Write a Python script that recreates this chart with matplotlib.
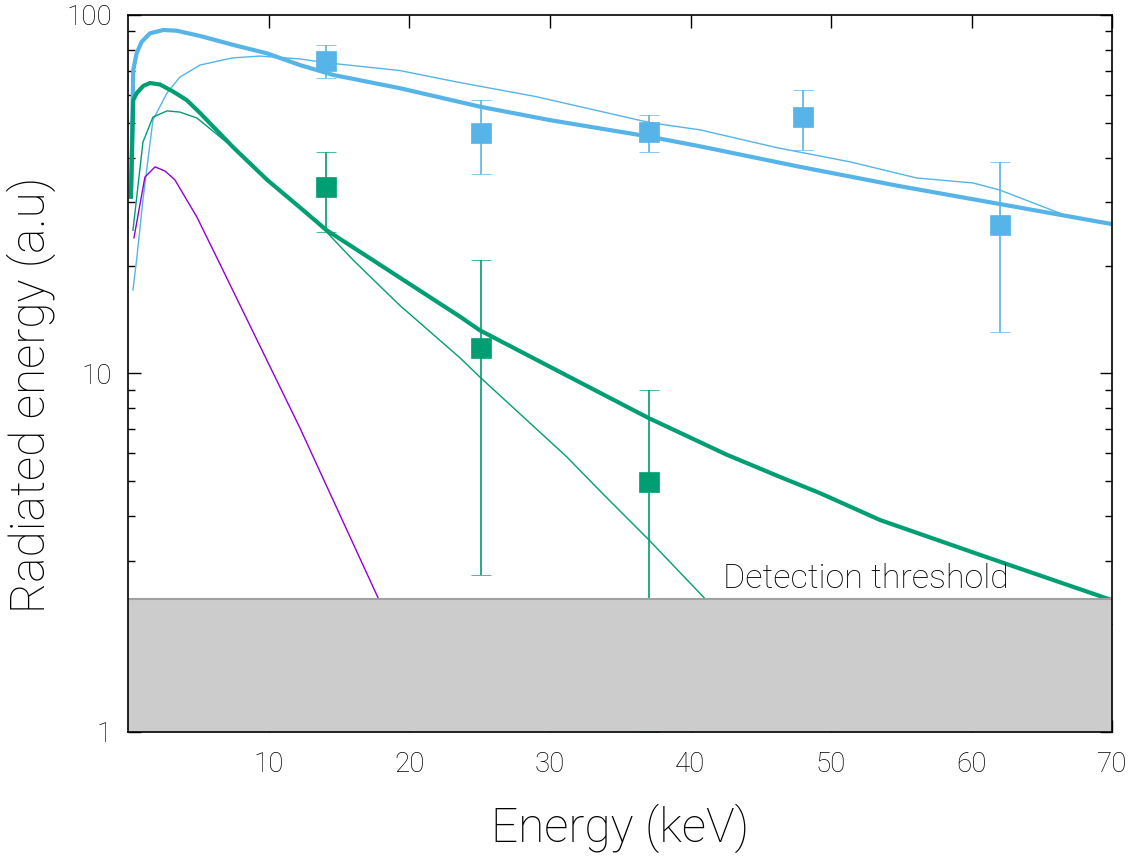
import matplotlib
matplotlib.use('Agg')
import matplotlib.pyplot as plt
import numpy as np

plt.rcParams['font.family'] = ['Roboto', 'DejaVu Sans']

# measured points (keV, a.u.)
pts_x = [14.06, 25.1, 37.05, 48.0, 62.0]
blue_y = [74.4, 46.9, 47.2, 51.9, 26.0]
blue_lo = [66.7, 36.0, 41.5, 42.0, 13.05]
blue_hi = [82.5, 57.9, 52.6, 61.8, 38.9]

green_x = [14.06, 25.1, 37.05]
green_y = [33.1, 11.8, 4.98]
green_lo = [24.8, 2.74, 1.0]
green_hi = [41.5, 20.7, 9.0]

# fitted / model curves
blue_fit_x = [0.18, 0.34, 0.58, 0.94, 1.53, 2.48, 3.43, 5.09, 7.46, 9.84, 12.2, 14.6, 19.3,
              25.1, 30.0, 37.05, 40.7, 47.8, 54.9, 62.0, 70.0]
blue_fit_y = [32.5, 70.2, 78.2, 84.2, 88.9, 90.8, 90.4, 87.4, 82.5, 78.2, 72.5, 68.0, 62.5,
              55.4, 50.9, 45.8, 43.0, 37.7, 33.3, 29.7, 26.1]

blue_mod_x = [0.32, 0.6, 1.03, 1.74, 2.74, 3.66, 5.09, 7.4, 9.36, 12.2, 14.06, 19.3, 23.4,
              29.0, 37.1, 40.7, 46.2, 51.4, 56.1, 60.1, 62.0, 64.4, 66.8]
blue_mod_y = [17.1, 21.1, 30.5, 50.9, 60.6, 67.1, 72.5, 75.9, 76.8, 75.4, 73.6, 70.0, 65.0,
              59.2, 50.1, 47.8, 42.6, 38.9, 35.1, 34.0, 32.5, 29.9, 27.5]

green_fit_x = [0.18, 0.34, 0.58, 1.05, 1.53, 2.24, 3.19, 4.14, 5.09, 7.44, 9.86, 12.0, 14.1,
               17.4, 23.6, 25.0, 30.7, 37.05, 42.6, 46.4, 49.2, 53.5, 60.6, 69.6, 70.0]
green_fit_y = [31.1, 57.9, 60.5, 63.4, 64.6, 64.0, 61.1, 57.9, 53.3, 42.8, 34.7, 29.5, 25.1,
               20.7, 14.4, 13.2, 10.1, 7.5, 5.93, 5.14, 4.64, 3.90, 3.12, 2.36, 2.33]

green_mod_x = [0.32, 1.03, 1.74, 2.74, 3.66, 4.87, 7.4, 9.86, 12.0, 14.1, 16.0, 19.3, 23.6,
               25.0, 31.2, 33.8, 37.05, 41.05, 51.5]
green_mod_y = [25.1, 44.2, 51.9, 54.0, 53.6, 51.6, 42.8, 34.7, 29.5, 24.8, 20.7, 15.5, 11.05,
               9.78, 5.85, 4.6, 3.43, 2.35, 1.0]

purple_x = [0.39, 1.17, 1.89, 2.6, 3.3, 4.87, 6.3, 12.2, 17.8, 22.3]
purple_y = [23.9, 35.3, 37.7, 36.7, 34.7, 27.3, 21.0, 7.05, 2.35, 1.0]

threshold = 2.35

blue = '#56b4e9'
green = '#009e73'
purple = '#9400d3'

fig = plt.figure(figsize=(11.41, 8.56), dpi=100)
ax = fig.add_axes([0.1126, 0.1449, 0.862, 0.8376])

ax.plot(blue_mod_x, blue_mod_y, color=blue, lw=1.0, zorder=2)
ax.plot(blue_fit_x, blue_fit_y, color=blue, lw=3.0, zorder=2)
ax.plot(purple_x, purple_y, color=purple, lw=1.0, zorder=2)
ax.plot(green_mod_x, green_mod_y, color=green, lw=1.0, zorder=2)
ax.plot(green_fit_x, green_fit_y, color=green, lw=3.0, zorder=2)

for xs, ys, lo, hi, c in [(pts_x, blue_y, blue_lo, blue_hi, blue),
                          (green_x, green_y, green_lo, green_hi, green)]:
    ys = np.array(ys)
    err = [ys - np.array(lo), np.array(hi) - ys]
    ax.errorbar(xs, ys, yerr=err, fmt='s', color=c, ms=14, mec=c, mew=0.5,
                elinewidth=1.2, capsize=7, capthick=1.2, zorder=2.1)

# detection threshold band
ax.fill_between([0, 70], 1, threshold, facecolor='#cccccc', edgecolor='none', zorder=2.2)
ax.axhline(threshold, color='#a0a0a0', lw=1.5, zorder=2.3)
ax.text(42.3, threshold * 1.025, 'Detection threshold', fontsize=24.5, fontweight='light',
        color='black', ha='left', va='bottom', zorder=3)

ax.set_yscale('log')
ax.set_xlim(0, 70)
ax.set_ylim(1, 100)
ax.set_xticks([10, 20, 30, 40, 50, 60, 70])
ax.set_yticks([1, 10, 100])
ax.set_yticklabels(['1', '10', '100'])
ax.tick_params(which='both', direction='in', top=True, right=True, labelsize=20,
               labelcolor='black')
ax.tick_params(which='major', length=9, width=1)
ax.tick_params(which='minor', length=5, width=1)
ax.tick_params(axis='x', pad=14)
ax.tick_params(axis='y', pad=12)
for lab in ax.get_xticklabels() + ax.get_yticklabels():
    lab.set_fontweight('light')
for s in ax.spines.values():
    s.set_linewidth(1.2)
    s.set_zorder(2.5)

ax.set_xlabel('Energy (keV)', fontsize=34.5, fontweight='light', labelpad=18)
ax.set_ylabel('Radiated energy (a.u)', fontsize=34.5, fontweight='light')
ax.yaxis.set_label_coords(-0.074, 0.47)

fig.savefig('out.png', dpi=100)
